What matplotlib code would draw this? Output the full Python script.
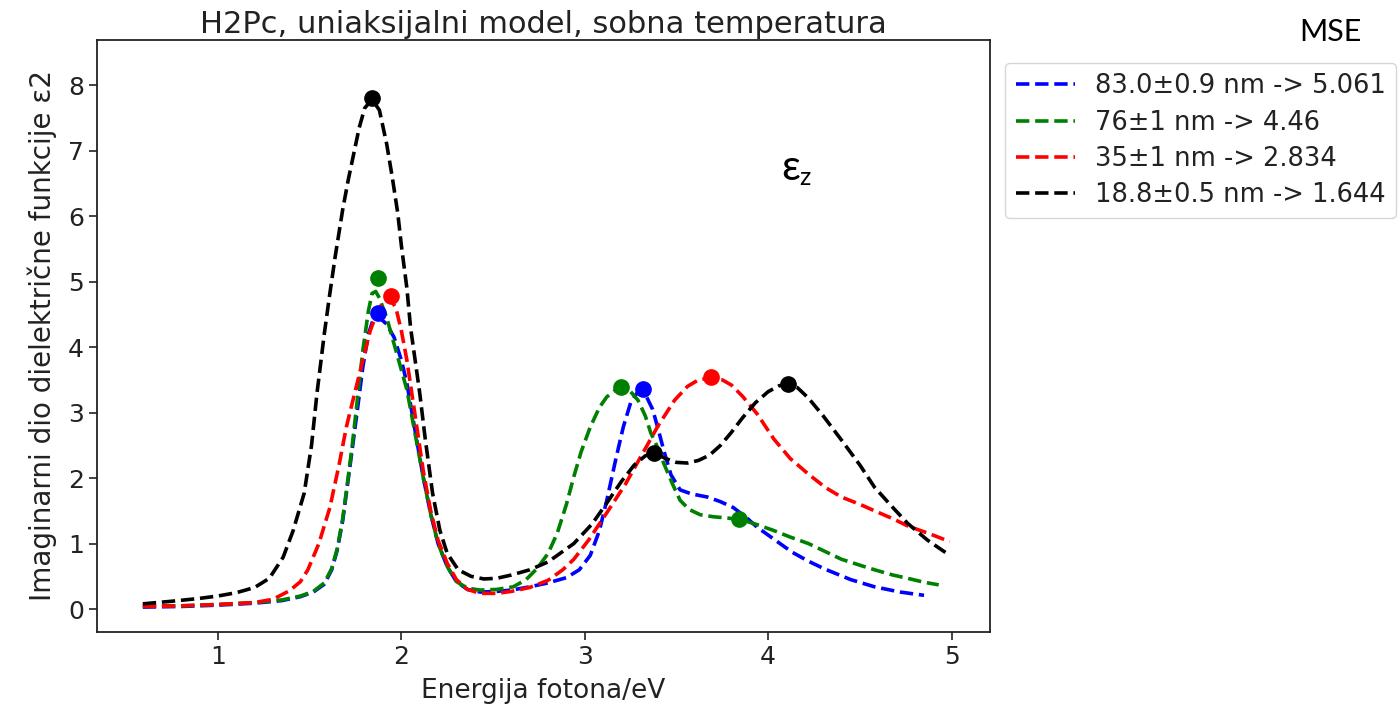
import matplotlib
matplotlib.use("Agg")
import matplotlib.pyplot as plt

# --- data ---
e_83 = [0.59, 0.8, 1.0, 1.2, 1.35, 1.45, 1.52, 1.58, 1.62, 1.65, 1.68, 1.70, 1.73,
        1.76, 1.79, 1.82, 1.85, 1.88, 1.92, 1.96, 2.00, 2.03, 2.07, 2.12, 2.16, 2.20,
        2.25, 2.30, 2.36, 2.43, 2.52, 2.60, 2.70, 2.80, 2.90, 2.97, 3.03, 3.08, 3.12,
        3.17, 3.21, 3.25, 3.29, 3.33, 3.37, 3.40, 3.43, 3.47, 3.52, 3.58, 3.67, 3.74,
        3.81, 3.88, 3.94, 4.04, 4.13, 4.22, 4.31, 4.45, 4.58, 4.72, 4.85]
v_83 = [0.03, 0.04, 0.06, 0.09, 0.13, 0.19, 0.26, 0.38, 0.60, 0.90, 1.35, 1.77, 2.4,
        3.04, 3.7, 4.2, 4.45, 4.45, 4.35, 4.15, 3.8, 3.45, 2.8, 2.0, 1.45, 1.0,
        0.65, 0.42, 0.30, 0.26, 0.27, 0.29, 0.34, 0.40, 0.48, 0.60, 0.82, 1.2, 1.66,
        2.3, 2.78, 3.15, 3.32, 3.28, 3.05, 2.75, 2.43, 2.05, 1.82, 1.76, 1.71, 1.64,
        1.55, 1.40, 1.25, 1.05, 0.87, 0.73, 0.61, 0.45, 0.34, 0.26, 0.21]

e_76 = [0.59, 0.8, 1.0, 1.2, 1.35, 1.45, 1.52, 1.58, 1.62, 1.65, 1.68, 1.70, 1.73,
        1.76, 1.79, 1.82, 1.84, 1.86, 1.88, 1.92, 1.96, 2.00, 2.03, 2.07, 2.12, 2.16,
        2.20, 2.25, 2.30, 2.36, 2.43, 2.52, 2.61, 2.68, 2.74, 2.80, 2.85, 2.90, 2.94,
        2.98, 3.03, 3.08, 3.12, 3.17, 3.21, 3.25, 3.29, 3.33, 3.36, 3.40, 3.43, 3.48,
        3.52, 3.57, 3.63, 3.70, 3.78, 3.86, 3.95, 4.03, 4.12, 4.22, 4.31, 4.40, 4.50,
        4.58, 4.68, 4.76, 4.85, 4.93]
v_76 = [0.05, 0.05, 0.07, 0.10, 0.14, 0.20, 0.27, 0.40, 0.62, 0.92, 1.38, 1.8, 2.45,
        3.2, 3.95, 4.55, 4.82, 4.85, 4.75, 4.45, 4.05, 3.65, 3.35, 2.75, 2.0, 1.45,
        1.0, 0.65, 0.42, 0.32, 0.29, 0.30, 0.34, 0.45, 0.62, 0.85, 1.16, 1.6, 2.02,
        2.4, 2.78, 3.08, 3.24, 3.35, 3.38, 3.32, 3.19, 2.95, 2.69, 2.45, 2.23, 1.9,
        1.66, 1.52, 1.44, 1.41, 1.39, 1.36, 1.28, 1.2, 1.1, 1.0, 0.88, 0.76, 0.67,
        0.60, 0.52, 0.47, 0.41, 0.37]

e_35 = [0.59, 0.8, 1.0, 1.2, 1.30, 1.39, 1.45, 1.49, 1.55, 1.61, 1.66, 1.70, 1.75,
        1.79, 1.83, 1.87, 1.91, 1.94, 1.97, 2.00, 2.03, 2.07, 2.12, 2.16, 2.20, 2.25,
        2.30, 2.36, 2.43, 2.52, 2.60, 2.70, 2.80, 2.88, 2.94, 3.02, 3.12, 3.22, 3.31,
        3.40, 3.49, 3.56, 3.62, 3.69, 3.75, 3.80, 3.86, 3.94, 4.03, 4.12, 4.22, 4.31,
        4.40, 4.50, 4.58, 4.68, 4.76, 4.88, 4.99]
v_35 = [0.04, 0.05, 0.07, 0.10, 0.15, 0.28, 0.42, 0.60, 1.0, 1.55, 2.2, 2.78, 3.35,
        3.8, 4.25, 4.55, 4.72, 4.73, 4.6, 4.25, 3.8, 3.05, 2.1, 1.5, 1.05, 0.70,
        0.45, 0.30, 0.24, 0.24, 0.27, 0.33, 0.44, 0.60, 0.76, 1.05, 1.47, 1.9, 2.35,
        2.8, 3.19, 3.4, 3.5, 3.53, 3.5, 3.42, 3.25, 2.98, 2.6, 2.3, 2.06, 1.86,
        1.71, 1.60, 1.50, 1.38, 1.27, 1.15, 1.03]

e_19 = [0.59, 0.75, 0.89, 1.0, 1.1, 1.2, 1.28, 1.355, 1.41, 1.47, 1.51, 1.54, 1.58,
        1.61, 1.64, 1.68, 1.71, 1.74, 1.77, 1.80, 1.84, 1.88, 1.92, 1.95, 1.98, 2.00,
        2.03, 2.05, 2.08, 2.10, 2.13, 2.17, 2.21, 2.25, 2.31, 2.38, 2.45, 2.52, 2.60,
        2.70, 2.80, 2.94, 3.04, 3.12, 3.20, 3.27, 3.33, 3.38, 3.44, 3.50, 3.56, 3.62,
        3.68, 3.74, 3.80, 3.86, 3.93, 4.00, 4.06, 4.11, 4.16, 4.22, 4.30, 4.40, 4.50,
        4.58, 4.68, 4.76, 4.87, 4.99]
v_19 = [0.08, 0.12, 0.16, 0.20, 0.25, 0.33, 0.47, 0.79, 1.2, 1.77, 2.5, 3.30, 4.21,
        4.82, 5.4, 6.1, 6.55, 6.95, 7.35, 7.65, 7.78, 7.62, 7.1, 6.6, 6.05, 5.55,
        4.9, 4.3, 3.7, 3.3, 2.6, 1.77, 1.2, 0.85, 0.60, 0.50, 0.46, 0.47, 0.52,
        0.60, 0.72, 1.0, 1.3, 1.62, 1.95, 2.2, 2.34, 2.38, 2.30, 2.24, 2.23, 2.27,
        2.35, 2.5, 2.7, 2.92, 3.15, 3.32, 3.41, 3.43, 3.38, 3.22, 2.95, 2.58, 2.2,
        1.86, 1.55, 1.31, 1.05, 0.82]

# peak markers
pk_e_83 = [1.87, 3.32]
pk_v_83 = [4.52, 3.36]
pk_e_76 = [1.87, 3.20, 3.84]
pk_v_76 = [5.05, 3.39, 1.37]
pk_e_35 = [1.945, 3.69]
pk_v_35 = [4.78, 3.55]
pk_e_19 = [1.84, 3.38, 4.11]
pk_v_19 = [7.80, 2.38, 3.43]

labels = ["83.0±0.9 nm -> 5.061", "76±1 nm -> 4.46",
          "35±1 nm -> 2.834", "18.8±0.5 nm -> 1.644"]
colors = ["blue", "green", "red", "black"]

fig = plt.figure(figsize=(13.99, 7.19), dpi=100)
ax = fig.add_axes([0.0693, 0.121, 0.6384, 0.8234])

curves = [(e_83, v_83), (e_76, v_76), (e_35, v_35), (e_19, v_19)]
peaks = [(pk_e_83, pk_v_83), (pk_e_76, pk_v_76),
         (pk_e_35, pk_v_35), (pk_e_19, pk_v_19)]

for (e, v), lab, c in zip(curves, labels, colors):
    ax.plot(e, v, "--", color=c, lw=2.6, label=lab)
for (e, v), c in zip(peaks, colors):
    ax.plot(e, v, "o", color=c, ms=11, ls="none")

ax.set_xlim(0.34, 5.21)
ax.set_ylim(-0.35, 8.69)
ax.set_xticks([1, 2, 3, 4, 5])
ax.set_yticks(range(9))
ax.tick_params(labelsize=18, length=6, width=1.2, colors="#222222")
for s in ax.spines.values():
    s.set_linewidth(1.3)
    s.set_color("#222222")

ax.set_title("H2Pc, uniaksijalni model, sobna temperatura", fontsize=22, pad=5,
             color="#222222")
ax.set_xlabel("Energija fotona/eV", fontsize=19, labelpad=6, color="#222222")
ax.set_ylabel("Imaginarni dio dielektrične funkcije ε2", fontsize=20, labelpad=8,
              color="#222222")

leg = ax.legend(loc="upper left", bbox_to_anchor=(1.017, 0.961), borderaxespad=0,
                fontsize=18.5, handlelength=2.3, labelspacing=0.4, frameon=True)
for t in leg.get_texts():
    t.set_color("#222222")

fig.text(0.5655, 0.766, "ε", fontsize=30, family="Lato", ha="center", va="center")
fig.text(0.5755, 0.753, "z", fontsize=18, family="Lato", ha="center", va="center")
fig.text(0.951, 0.955, "MSE", fontsize=22, family="Lato", ha="center", va="center")

fig.savefig("out.png", dpi=100, facecolor="white")
